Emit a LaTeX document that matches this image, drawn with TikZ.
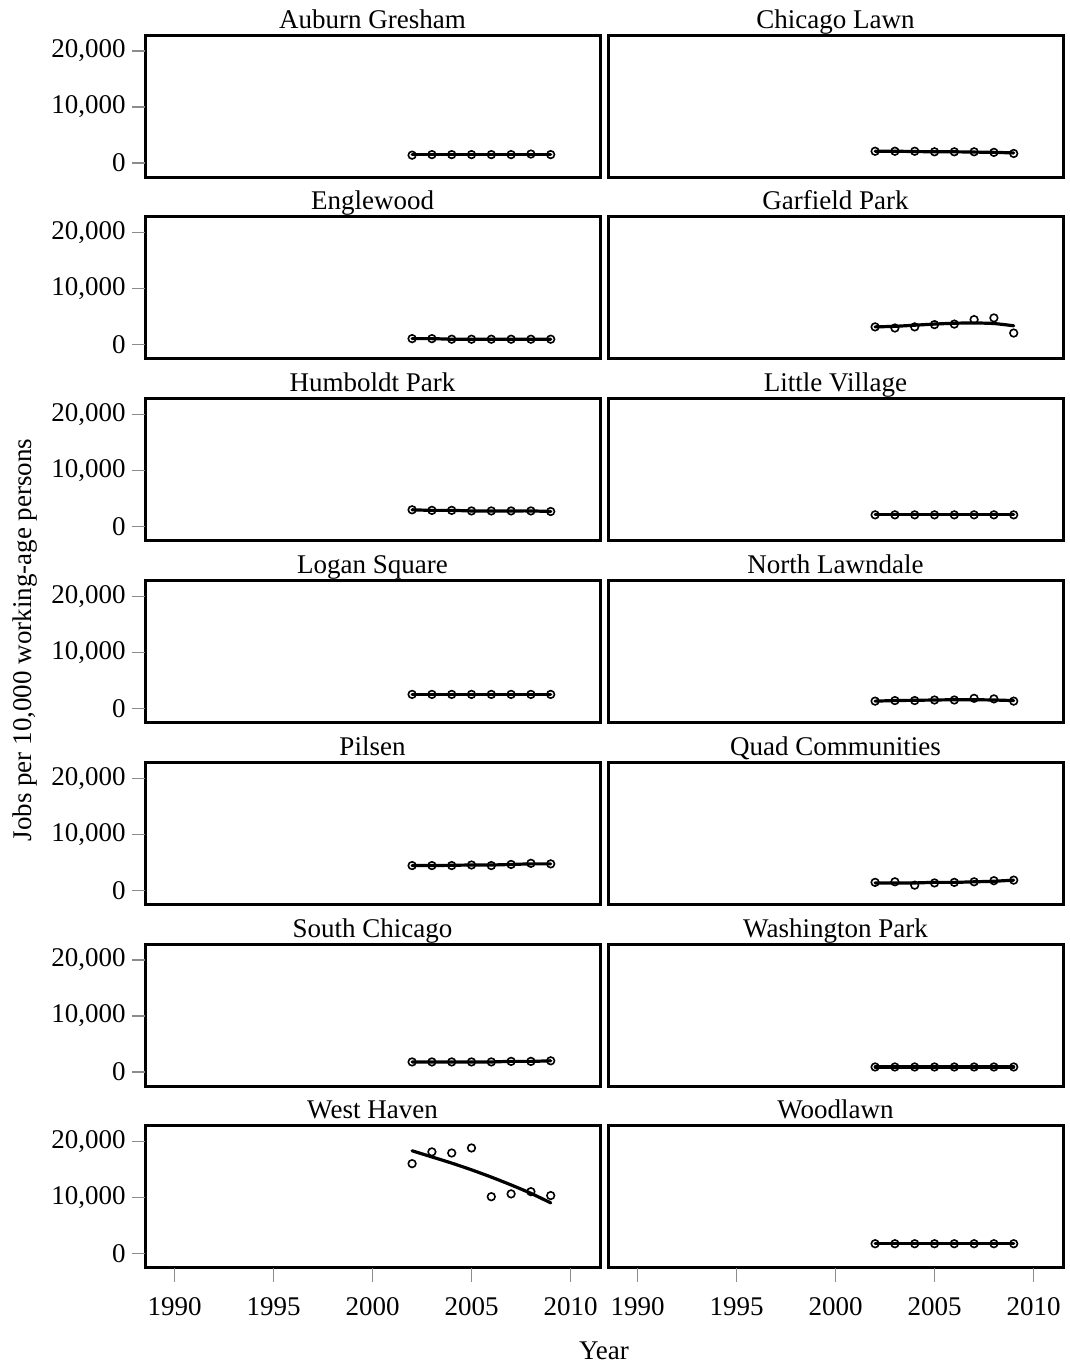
\documentclass[tikz,border=0pt]{standalone}
\usepackage{fontspec}
\setmainfont{Liberation Serif}
\usetikzlibrary{positioning}

\begin{document}
\begin{tikzpicture}[x=0.5pt,y=-0.5pt,font=\fontsize{13.5}{16}\selectfont,
  panel/.style={draw,line width=1.5pt},
  tick/.style={draw=black!45,line width=0.6pt},
  trend/.style={line width=1.6pt,line join=round,line cap=round},
  obs/.style={draw,line width=0.8pt},
  title/.style={anchor=base,inner sep=0pt},
  ylab/.style={anchor=east,inner sep=0pt},
  xlab/.style={anchor=base,inner sep=0pt}]

\useasboundingbox (0,0) rectangle (1070,1365);

% one panel per community area: name/title/column/row/observed/fitted (thousands)
\foreach \name/\ttl/\col/\row/\pts/\fit in {
  ag/Auburn Gresham/0/0/{1.4,1.5,1.5,1.5,1.5,1.5,1.6,1.5}/{1.5,1.5,1.5,1.5,1.5,1.5,1.5,1.5},
  cl/Chicago Lawn/1/0/{2.1,2.1,2.1,2.0,2.0,2.0,1.9,1.7}/{2.1,2.1,2.05,2.0,2.0,1.95,1.9,1.8},
  ew/Englewood/0/1/{1.1,1.1,1.0,1.0,1.0,1.0,1.0,1.0}/{1.1,1.1,1.0,1.0,1.0,1.0,1.0,1.0},
  gp/Garfield Park/1/1/{3.2,3.0,3.2,3.6,3.7,4.5,4.8,2.1}/{3.2,3.3,3.5,3.7,3.85,3.9,3.8,3.4},
  hp/Humboldt Park/0/2/{3.0,2.9,2.9,2.8,2.8,2.8,2.8,2.7}/{3.0,2.9,2.9,2.8,2.8,2.8,2.8,2.7},
  lv/Little Village/1/2/{2.1,2.1,2.1,2.1,2.1,2.1,2.1,2.1}/{2.1,2.1,2.1,2.1,2.1,2.1,2.1,2.1},
  ls/Logan Square/0/3/{2.5,2.5,2.5,2.5,2.5,2.5,2.5,2.5}/{2.5,2.5,2.5,2.5,2.5,2.5,2.5,2.5},
  nl/North Lawndale/1/3/{1.3,1.4,1.4,1.5,1.5,1.8,1.7,1.3}/{1.3,1.4,1.45,1.5,1.55,1.55,1.5,1.4},
  pi/Pilsen/0/4/{4.4,4.4,4.4,4.5,4.4,4.6,4.8,4.7}/{4.4,4.4,4.45,4.5,4.5,4.6,4.7,4.7},
  qc/Quad Communities/1/4/{1.4,1.5,0.9,1.3,1.4,1.5,1.7,1.8}/{1.3,1.3,1.3,1.4,1.4,1.5,1.6,1.8},
  sc/South Chicago/0/5/{1.8,1.8,1.8,1.8,1.8,1.9,1.9,2.0}/{1.8,1.8,1.8,1.8,1.8,1.9,1.9,2.0},
  wp/Washington Park/1/5/{0.9,0.9,0.9,0.9,0.9,0.9,0.9,0.9}/{0.9,0.9,0.9,0.9,0.9,0.9,0.9,0.9},
  wh/West Haven/0/6/{16.1,18.2,18.0,18.9,10.2,10.7,11.1,10.4}/{18.4,17.3,16.2,15.0,13.7,12.3,10.8,9.1},
  wl/Woodlawn/1/6/{1.8,1.8,1.8,1.8,1.8,1.8,1.8,1.8}/{1.8,1.8,1.8,1.8,1.8,1.8,1.8,1.8}}
{
  \pgfmathsetmacro\xo{145+463*\col}
  \pgfmathsetmacro\yo{35+181.8*\row}
  \draw[panel] (\xo,\yo) rectangle ++(455,142);
  \node[title] (\name) at ({\xo+227.5},{\yo-7}) {\ttl};
  \foreach \v [count=\i from 0] in \pts
    \draw[obs] ({\xo+29.5+(12+\i)*19.8},{\yo+128-\v*5.6}) circle[radius=1.9pt];
  \foreach \v [count=\i from 0] in \fit
    \coordinate (\name\i) at ({\xo+29.5+(12+\i)*19.8},{\yo+128-\v*5.6});
  \draw[trend] plot[smooth,tension=0.4] coordinates {(\name0) (\name1) (\name2) (\name3) (\name4) (\name5) (\name6) (\name7)};
}

% y axis on the left column
\foreach \row in {0,...,6}
  \foreach \v/\lab in {0/0,10/{10,000},20/{20,000}} {
    \pgfmathsetmacro\yt{35+181.8*\row+128-\v*5.6}
    \draw[tick] (132,\yt) -- (145,\yt);
    \node[ylab] (y\row-\v) at (126,\yt) {\lab};
  }

% x axis under the bottom row
\foreach \col in {0,1}
  \foreach \yr in {1990,1995,...,2010} {
    \pgfmathsetmacro\xt{145+463*\col+29.5+(\yr-1990)*19.8}
    \draw[tick] (\xt,1268) -- (\xt,1282);
    \node[xlab] (x\col-\yr) at (\xt,1315) {\yr};
  }

\node[rotate=90] (ytitle) at (25,640) {Jobs per 10,000 working-age persons};
\node (xtitle) at (604,1351) {Year};

\end{tikzpicture}
\end{document}
